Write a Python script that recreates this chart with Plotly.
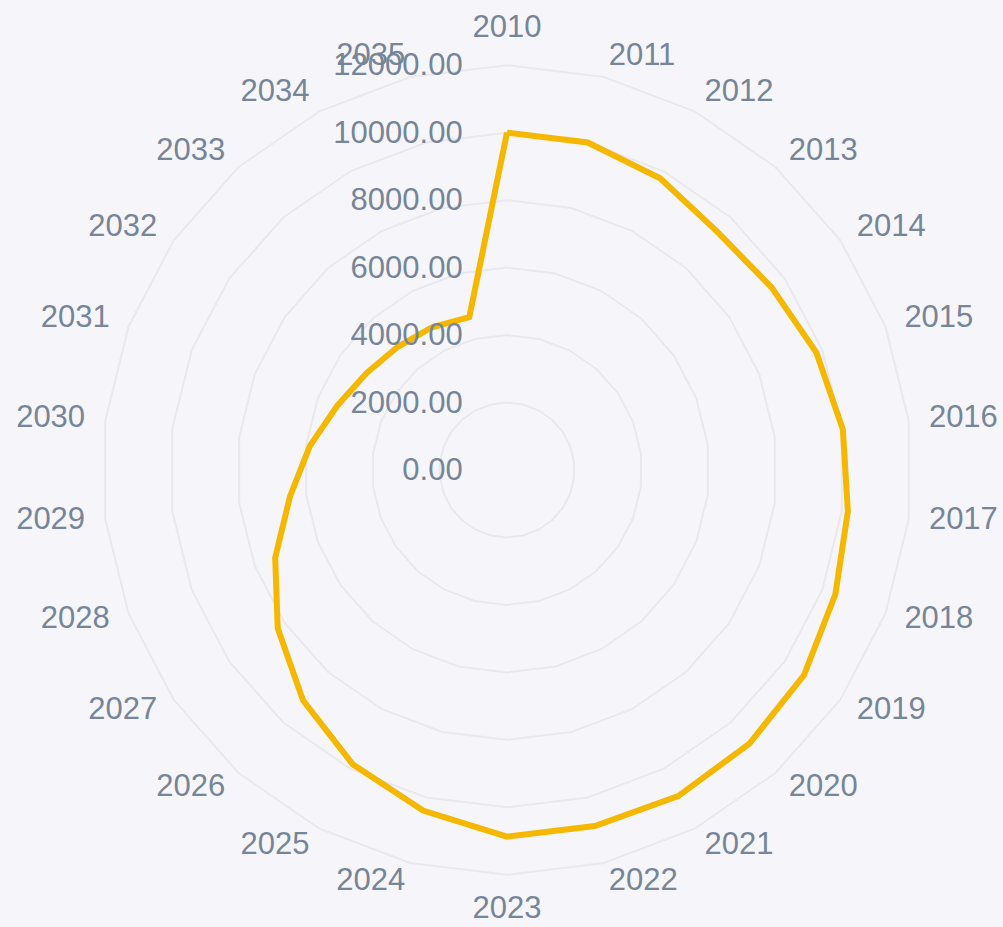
import plotly.graph_objects as go

years = [str(y) for y in range(2010, 2036)]
values = [10000, 10000, 9770, 9420, 9530, 9810, 10030, 10180, 10410, 10700,
          10840, 10920, 10870, 10870, 10400, 9850, 9120, 8260, 7350, 6480,
          5890, 5380, 5060, 4880, 4780, 4670]

radial_ticks = [0, 2000, 4000, 6000, 8000, 10000, 12000]
radial_max = 12000
label_r = 12600  # category names sit just outside the outer ring

text_color = "#768597"
font_family = "Liberation Sans, Arial, Helvetica, sans-serif"

# close the radar polygon
theta_closed = years + [years[0]]
r_closed = values + [values[0]]

fig = go.Figure()
fig.add_trace(go.Scatterpolar(
    r=r_closed,
    theta=theta_closed,
    mode="lines",
    line=dict(color="#f5b700", width=6),
    showlegend=False,
    hoverinfo="r+theta",
))

# radar-style anchoring of category names
n = len(years)
label_pos = []
for i in range(n):
    if i == 0:
        label_pos.append("top center")
    elif 2 * i == n:
        label_pos.append("bottom center")
    elif i < n / 2:
        label_pos.append("middle right")
    else:
        label_pos.append("middle left")

fig.add_trace(go.Scatterpolar(
    r=[label_r] * n,
    theta=years,
    mode="text",
    text=years,
    textposition=label_pos,
    textfont=dict(family=font_family, size=31, color=text_color),
    cliponaxis=False,
    showlegend=False,
    hoverinfo="skip",
))

fig.update_layout(
    width=1003,
    height=927,
    paper_bgcolor="#f6f6fa",
    plot_bgcolor="#f6f6fa",
    margin=dict(l=82, r=71, t=45, b=32),
    font=dict(family=font_family, size=31, color=text_color),
    polar=dict(
        bgcolor="#f6f6fa",
        gridshape="linear",
        domain=dict(x=[0, 1], y=[0, 1]),
        angularaxis=dict(
            type="category",
            categoryarray=years,
            rotation=90,
            direction="clockwise",
            showgrid=False,
            showline=False,
            ticks="",
            showticklabels=False,
        ),
        radialaxis=dict(
            range=[0, label_r],
            tickvals=radial_ticks,
            tickformat=".2f",
            angle=90,
            tickangle=90,
            side="counterclockwise",
            showline=False,
            ticks="outside",
            ticklen=33,
            tickcolor="rgba(0,0,0,0)",
            gridcolor="#e8e8ee",
            gridwidth=1.5,
            tickfont=dict(size=31, color=text_color),
        ),
    ),
)

fig.write_html(
    "out.html",
    config={"displayModeBar": False},
    post_script="document.body.style.margin='0';document.body.style.background='#f6f6fa';",
)
